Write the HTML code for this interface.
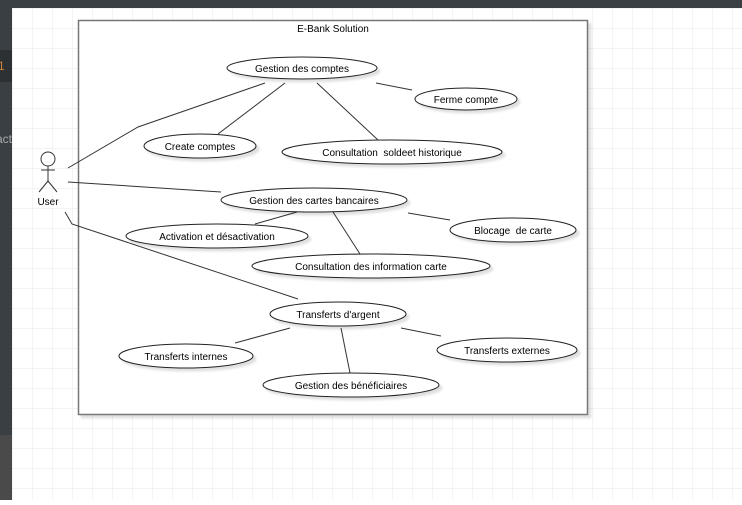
<!DOCTYPE html>
<html><head><style>
body{margin:0;width:742px;height:500px;overflow:hidden;background:#fff;font-family:"Liberation Sans",sans-serif}
</style></head><body>
<svg width="742" height="500" xmlns="http://www.w3.org/2000/svg" font-family="Liberation Sans, sans-serif" font-size="10">
<defs>
<pattern id="g" x="12" y="8" width="20" height="20" patternUnits="userSpaceOnUse">
<path d="M0 0H20M0 0V20" stroke="#ececec" stroke-width="1.2" fill="none"/>
</pattern>
<filter id="s"><feDropShadow dx="3" dy="3" stdDeviation="1" flood-color="#000" flood-opacity="0.12"/></filter>
</defs>
<rect width="742" height="500" fill="#fff"/>
<rect width="742" height="500" fill="url(#g)"/>
<rect x="0" y="0" width="742" height="8" fill="#3a3f43"/>
<rect x="0" y="8" width="12" height="127" fill="#3a3f43"/>
<rect x="0" y="50" width="12" height="32" fill="#2e3133"/>
<text x="-2" y="70" fill="#c8843a" font-size="12">1</text>
<rect x="0" y="82" width="12" height="53" fill="#3a3f43"/>
<rect x="0" y="135" width="12" height="300" fill="#3a3f43"/>
<text x="-4" y="143" fill="#aaa" font-size="12">act</text>
<rect x="0" y="435" width="12" height="65" fill="#4a4a4a"/>
<rect x="78.5" y="20.5" width="509" height="394" fill="#fff" stroke="#777" stroke-width="1.5" filter="url(#s)"/>
<text x="333" y="32" text-anchor="middle">E-Bank Solution</text>
<g stroke="#333" stroke-width="1" fill="none">
<polyline points="68,168 138,127 265,83"/>
<line x1="218" y1="134" x2="285" y2="83"/>
<line x1="317" y1="83" x2="378" y2="140"/>
<line x1="376" y1="83" x2="412" y2="90"/>
<line x1="68" y1="182" x2="221" y2="192"/>
<line x1="255" y1="224" x2="297" y2="212"/>
<line x1="333" y1="212" x2="360" y2="254"/>
<line x1="408" y1="213" x2="450" y2="220"/>
<polyline points="65,212 72,224 298,299"/>
<line x1="235" y1="343" x2="290" y2="328"/>
<line x1="341" y1="328" x2="350" y2="373"/>
<line x1="401" y1="328" x2="441" y2="336"/>
</g>
<g stroke="#333" stroke-width="1" fill="#fff">
<circle cx="48" cy="159" r="7"/>
<line x1="48" y1="166" x2="48" y2="181"/>
<line x1="41" y1="170" x2="55" y2="170"/>
<line x1="48" y1="181" x2="39" y2="192"/>
<line x1="48" y1="181" x2="57" y2="192"/>
</g>
<text x="48" y="205" text-anchor="middle">User</text>
<g stroke="#222" stroke-width="1" fill="#fff" filter="url(#s)">
<ellipse cx="302" cy="68" rx="75" ry="11"/>
<ellipse cx="466" cy="99" rx="51" ry="11"/>
<ellipse cx="200" cy="146" rx="56" ry="12"/>
<ellipse cx="392" cy="152" rx="110" ry="12"/>
<ellipse cx="314" cy="200" rx="93" ry="12"/>
<ellipse cx="217" cy="236" rx="91" ry="12"/>
<ellipse cx="513" cy="230" rx="63" ry="12"/>
<ellipse cx="371" cy="266" rx="119" ry="12"/>
<ellipse cx="338" cy="314" rx="68" ry="12"/>
<ellipse cx="186" cy="356" rx="67" ry="12"/>
<ellipse cx="507" cy="350" rx="70" ry="12"/>
<ellipse cx="351" cy="385" rx="88" ry="12"/>
</g>
<g text-anchor="middle" fill="#000">
<text x="302" y="72">Gestion des comptes</text>
<text x="466" y="103">Ferme compte</text>
<text x="200" y="150">Create comptes</text>
<text x="392" y="156" xml:space="preserve">Consultation  soldeet historique</text>
<text x="314" y="204">Gestion des cartes bancaires</text>
<text x="217" y="240">Activation et désactivation</text>
<text x="513" y="234" xml:space="preserve">Blocage  de carte</text>
<text x="371" y="270">Consultation des information carte</text>
<text x="338" y="318">Transferts d'argent</text>
<text x="186" y="360">Transferts internes</text>
<text x="507" y="354">Transferts externes</text>
<text x="351" y="389">Gestion des bénéficiaires</text>
</g>
</svg>
</body></html>
